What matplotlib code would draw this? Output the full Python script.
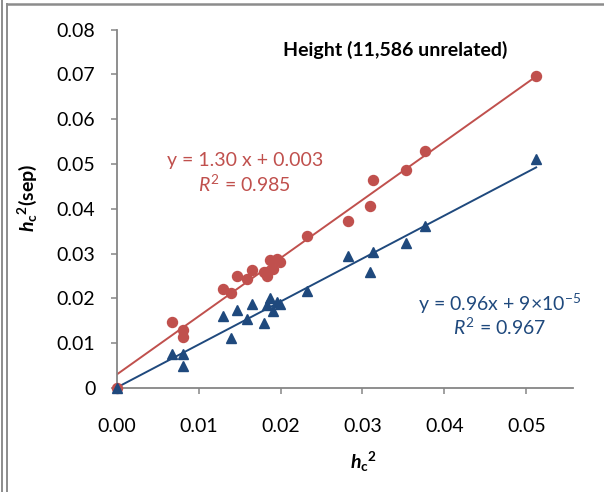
import numpy as np
import matplotlib
matplotlib.use("Agg")
import matplotlib.pyplot as plt
from matplotlib.lines import Line2D

plt.rcParams['font.family'] = ['Lato', 'DejaVu Sans']
plt.rcParams['mathtext.fontset'] = 'custom'
plt.rcParams['mathtext.rm'] = 'Lato'
plt.rcParams['mathtext.it'] = 'Lato:italic'
plt.rcParams['mathtext.bf'] = 'Lato:bold'
plt.rcParams['mathtext.bfit'] = 'Lato:bold:italic'

# data
hc2 = [0.0, 0.00672, 0.00806, 0.00806, 0.01294, 0.01392, 0.01473, 0.01587,
       0.01648, 0.01799, 0.01832, 0.01872, 0.01905, 0.01954, 0.01994,
       0.02327, 0.02828, 0.03093, 0.03126, 0.03532, 0.03764, 0.0512]
hc2_sep_red = [0.0, 0.0148, 0.0129, 0.0113, 0.0220, 0.0212, 0.0249, 0.0244,
               0.0263, 0.0260, 0.0250, 0.0285, 0.0265, 0.0289, 0.0282,
               0.0339, 0.0373, 0.0406, 0.0465, 0.0486, 0.0530, 0.0697]
hc2_sep_blue = [0.0, 0.0076, 0.0076, 0.0049, 0.0161, 0.0111, 0.0174, 0.0155,
                0.0187, 0.0145, 0.0185, 0.0202, 0.0172, 0.0191, 0.0188,
                0.0217, 0.0294, 0.0258, 0.0304, 0.0324, 0.0361, 0.0512]
red_fit = (1.30, 0.003)
blue_fit = (0.96, 9e-5)

red = '#C0504D'
blue = '#1F497D'
axis_gray = '#868686'

fig = plt.figure(figsize=(6.04, 4.92), dpi=100)
ax = fig.add_axes([0.1932, 0.2114, 0.9487 - 0.1932, 0.9398 - 0.2114])

x = np.array(hc2)
xl = np.array([0.0, x.max()])
ax.plot(xl, red_fit[0] * xl + red_fit[1], color=red, lw=1.4, zorder=2)
ax.plot(xl, blue_fit[0] * xl + blue_fit[1], color=blue, lw=1.4, zorder=2)
ax.plot(x, hc2_sep_red, 'o', color=red, ms=7.2, mec=red, zorder=3, clip_on=False)
ax.plot(x, hc2_sep_blue, '^', color=blue, ms=7.4, mec=blue, zorder=4, clip_on=False)

ax.set_xlim(0, 0.0557)
ax.set_ylim(0, 0.08)
ax.set_xticks([0.0, 0.01, 0.02, 0.03, 0.04, 0.05])
ax.set_xticklabels(['0.00', '0.01', '0.02', '0.03', '0.04', '0.05'])
ax.set_yticks([0, 0.01, 0.02, 0.03, 0.04, 0.05, 0.06, 0.07, 0.08])
ax.set_yticklabels(['0', '0.01', '0.02', '0.03', '0.04', '0.05', '0.06', '0.07', '0.08'])

for s in ['top', 'right']:
    ax.spines[s].set_visible(False)
for s in ['left', 'bottom']:
    ax.spines[s].set_color(axis_gray)
    ax.spines[s].set_linewidth(1.3)
ax.tick_params(axis='both', colors=axis_gray, labelcolor='black',
               direction='out', length=4.3, width=1.1, labelsize=14)
ax.tick_params(axis='x', pad=17)
ax.tick_params(axis='y', pad=11)

ax.set_title('Height (11,586 unrelated)', fontsize=14, fontweight='bold',
             x=0.61, y=0.903)

fig.text(0.0455, 0.598, r'$\mathbfit{h}_{\mathbf{c}}{}^{\mathbf{2}}$(sep)',
         rotation=90, fontsize=14, fontweight='bold', ha='center', va='center')
fig.text(364 / 604, 1 - 462 / 492, r'$\mathbfit{h}_{\mathbf{c}}{}^{\mathbf{2}}$',
         fontsize=14, fontweight='bold', ha='center', va='center')

fig.text(245 / 604, 1 - 161 / 492, 'y = 1.30 x + 0.003', color=red,
         fontsize=14, ha='center', va='center')
fig.text(245 / 604, 1 - 184 / 492, r'$R^2$ = 0.985', color=red,
         fontsize=14, ha='center', va='center')
fig.text(500 / 604, 1 - 304 / 492, r'y = 0.96x + 9×10$^{-5}$', color=blue,
         fontsize=14, ha='center', va='center')
fig.text(500 / 604, 1 - 327 / 492, r'$R^2$ = 0.967', color=blue,
         fontsize=14, ha='center', va='center')

# chart-area border (left double line and top line)
frame_gray = '#8C8C8C'
fig.add_artist(Line2D([1.5 / 604, 1.5 / 604], [0, 1], color=frame_gray, lw=1.4))
fig.add_artist(Line2D([7 / 604, 7 / 604], [0, 1 - 4 / 492], color=frame_gray, lw=1.4))
fig.add_artist(Line2D([7 / 604, 1], [1 - 4 / 492, 1 - 4 / 492], color=frame_gray, lw=1.8))

fig.savefig('out.png', dpi=100)
